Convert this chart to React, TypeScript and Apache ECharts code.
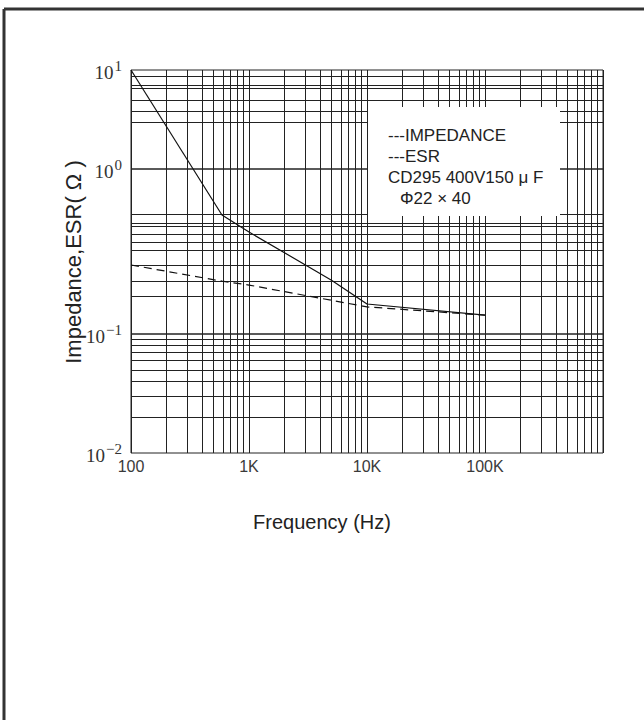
import React, { useEffect, useRef } from "react";
import * as echarts from "echarts";

// ---- data ----
const xMin = 100;
const xMax = 1000000;
const xTickLabels: Record<number, string> = { 100: "100", 1000: "1K", 10000: "10K", 100000: "100K", 1000000: "" };
const xMinorLines = [
  200, 300, 400, 500, 600, 700, 800, 900,
  2000, 3000, 4000, 5000, 6000, 7000, 8000, 9000,
  20000, 30000, 40000, 50000, 60000, 70000, 80000, 90000,
  200000, 300000, 400000, 500000, 600000, 700000, 800000, 900000,
];
// each decade of the y axis is drawn with its own height, as in the reference
const decadeLo = [1, 0.1, 0.01];
const decadeHi = [10, 1, 0.1];
const yMinorLines0 = [8.56, 7.06, 6.54, 4.98, 3.79, 2.94];
const yMinorLines1 = [0.526, 0.469, 0.447, 0.398, 0.359, 0.323, 0.262, 0.21, 0.17];
const yMinorLines2 = [0.0852, 0.0782, 0.0675, 0.0585, 0.0505, 0.0378, 0.0279, 0.0211];

const impedanceFreq = [100, 336, 590, 1000, 5000, 10000, 100000];
const impedanceVal = [10, 1, 0.526, 0.415, 0.212, 0.152, 0.13];
const esrFreq = [100, 590, 1000, 10000, 100000];
const esrVal = [0.262, 0.209, 0.198, 0.146, 0.13];

const legendLines = ["---IMPEDANCE", "---ESR", "CD295 400V150 \u03bc F", "\u03a622 \u00d7 40"];

// ---- layout ----
const gridLeft = 131;
const gridRight = 41;
const gridTops = [70, 169, 334];
const gridHeights = [99, 165, 119];

function App() {
  const ref = useRef<HTMLDivElement>(null);
  useEffect(() => {
    if (!ref.current) return;
    const chart = echarts.init(ref.current, null, { renderer: "svg" });
    const yMinor = [yMinorLines0, yMinorLines1, yMinorLines2];

    const lineColor = "#222";
    const grids = gridTops.map((t, i) => ({
      left: gridLeft,
      right: gridRight,
      top: t,
      height: gridHeights[i],
      show: true,
      borderColor: lineColor,
      borderWidth: 1,
    }));

    const xAxes = gridTops.map((_, i) => ({
      type: "log",
      gridIndex: i,
      min: xMin,
      max: xMax,
      logBase: 10,
      axisLine: { show: false },
      axisTick: { show: false },
      splitLine: { show: true, lineStyle: { color: lineColor, width: 1 } },
      axisLabel: {
        show: i === 2,
        margin: 5,
        fontFamily: "Liberation Sans",
        fontSize: 16,
        color: "#3a3a3a",
        formatter: (v: number) => xTickLabels[Math.round(v)] ?? "",
      },
    }));

    const expText = (v: number) => {
      const e = Math.round(Math.log10(v));
      return e < 0 ? "\u2212" + Math.abs(e) : String(e);
    };

    const yAxes = gridTops.map((_, i) => ({
      type: "log",
      gridIndex: i,
      min: decadeLo[i],
      max: decadeHi[i],
      logBase: 10,
      axisLine: { show: false },
      axisTick: { show: false },
      splitLine: { show: false },
      axisLabel: {
        margin: 9,
        formatter: (v: number) => {
          if (i > 0 && Math.abs(v - decadeHi[i]) < 1e-9) return "";
          return `{b|10}{s|${expText(v)}}`;
        },
        rich: {
          b: { fontFamily: "Liberation Serif", fontSize: 19, color: "#333", verticalAlign: "bottom" },
          s: { fontFamily: "Liberation Serif", fontSize: 15, color: "#333", padding: [0, 0, 9, 1], verticalAlign: "bottom" },
        },
      },
    }));

    const markLineBase = {
      silent: true,
      symbol: ["none", "none"],
      label: { show: false },
      emphasis: { disabled: true },
      lineStyle: { type: "solid", color: lineColor, width: 1 },
      animation: false,
    };

    const series: any[] = [];
    gridTops.forEach((_, i) => {
      series.push({
        type: "line",
        xAxisIndex: i,
        yAxisIndex: i,
        data: [],
        silent: true,
        markLine: {
          ...markLineBase,
          data: [
            ...xMinorLines.map((v) => ({ xAxis: v })),
            ...yMinor[i].map((v) => ({ yAxis: v })),
          ],
        },
      });
      const inDecade = (v: number) => v >= decadeLo[i] - 1e-9 && v <= decadeHi[i] + 1e-9;
      const imp = impedanceFreq.map((f, k) => [f, impedanceVal[k]]).filter((p) => inDecade(p[1]));
      const esr = esrFreq.map((f, k) => [f, esrVal[k]]).filter((p) => inDecade(p[1]));
      if (imp.length > 1)
        series.push({
          type: "line",
          name: "IMPEDANCE",
          xAxisIndex: i,
          yAxisIndex: i,
          data: imp,
          showSymbol: false,
          symbol: "none",
          clip: true,
          z: 10,
          lineStyle: { color: "#111", width: 1.2, type: "solid" },
        });
      if (esr.length > 1)
        series.push({
          type: "line",
          name: "ESR",
          xAxisIndex: i,
          yAxisIndex: i,
          data: esr,
          showSymbol: false,
          symbol: "none",
          clip: true,
          z: 10,
          lineStyle: { color: "#111", width: 1.2, type: [8, 5] },
        });
    });

    const legendTexts = legendLines.map((t, k) => ({
      type: "text",
      z: 101,
      left: k === 3 ? 400 : 388,
      top: 127 + k * 21,
      style: {
        text: t,
        fontFamily: "Liberation Sans",
        fontSize: 17,
        fill: "#222",
      },
    }));

    chart.setOption({
      animation: false,
      backgroundColor: "#ffffff",
      grid: grids,
      xAxis: xAxes,
      yAxis: yAxes,
      series,
      graphic: [
        { type: "rect", z: 100, shape: { x: 368, y: 107, width: 192, height: 109 }, style: { fill: "#ffffff" } },
        ...legendTexts,
        { type: "line", z: 100, shape: { x1: 4, y1: 9, x2: 644, y2: 9 }, style: { stroke: "#333", lineWidth: 3 } },
        { type: "line", z: 100, shape: { x1: 4, y1: 9, x2: 4, y2: 720 }, style: { stroke: "#333", lineWidth: 3 } },
        {
          type: "text",
          z: 100,
          left: "center",
          top: 512,
          style: { text: "Frequency (Hz)", fontFamily: "Liberation Sans", fontSize: 20, fill: "#222" },
        },
        {
          type: "text",
          z: 100,
          x: 73,
          y: 262,
          rotation: Math.PI / 2,
          style: {
            text: "Impedance,ESR( \u03a9 )",
            fontFamily: "Liberation Sans",
            fontSize: 22,
            fill: "#222",
            align: "center",
            verticalAlign: "middle",
          },
        },
      ],
    });
    return () => chart.dispose();
  }, []);
  return <div ref={ref} style={{ position: "fixed", left: 0, top: 0, width: 644, height: 720 }} />;
}

export default App;
